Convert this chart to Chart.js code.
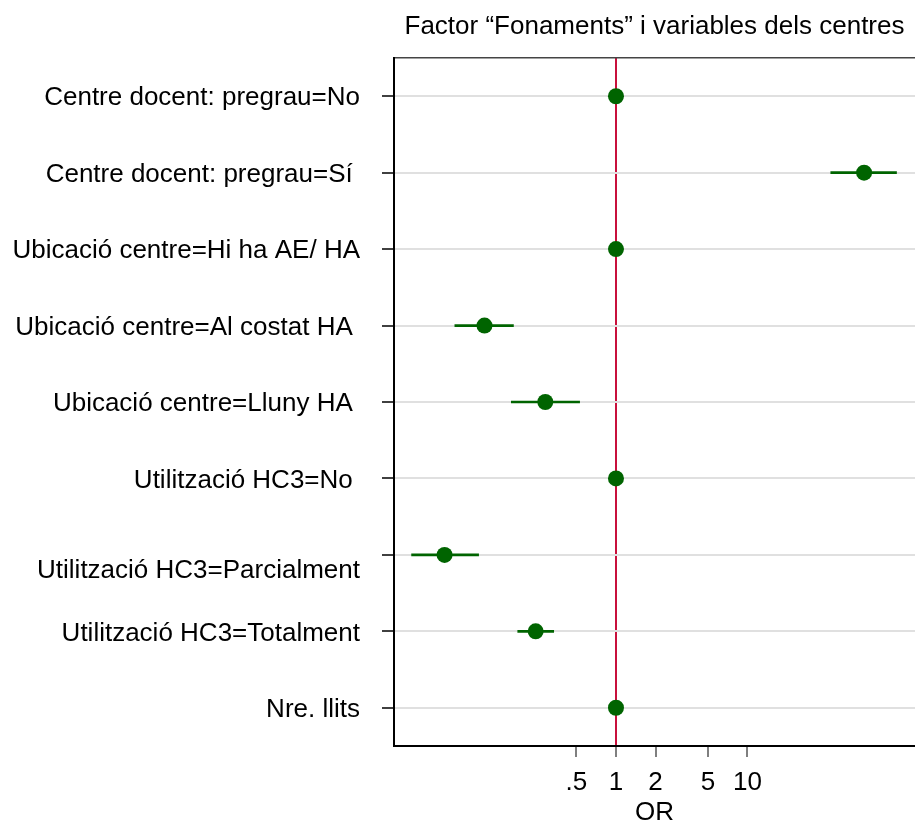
<!DOCTYPE html>
<html>
<head>
<meta charset="utf-8">
<script src="https://cdn.jsdelivr.net/npm/chart.js@4"></script>
<style>
  body { margin: 0; background: #fff; }
  #wrap { width: 915px; height: 825px; }
</style>
</head>
<body>
<div id="wrap"><canvas id="forest-chart"></canvas></div>
<script>
const chartTitle = 'Factor “Fonaments” i variables dels centres'
const labels = [
    'Centre docent: pregrau=No',
    'Centre docent: pregrau=Sí ',
    'Ubicació centre=Hi ha AE/ HA',
    'Ubicació centre=Al costat HA ',
    'Ubicació centre=Lluny HA ',
    'Utilització HC3=No ',
    ['', 'Utilització HC3=Parcialment'],
    'Utilització HC3=Totalment',
    'Nre. llits'
]
// odds ratios and 95% CI (null = reference category)
const orValues = [1, 77.1, 1, 0.100, 0.290, 1, 0.0497, 0.245, 1]
const ciLow = [null, 43.0, null, 0.0595, 0.160, null, 0.0279, 0.179, null]
const ciHigh = [null, 136, null, 0.166, 0.529, null, 0.0902, 0.336, null]
const xTicks = [0.5, 1, 2, 5, 10]
const xTickText = ['.5', '1', '2', '5', '10']

const green = '#006400'
const refRed = '#c8103c'
const fontFamily = 'Liberation Sans, Arial, sans-serif'
const font26 = { family: fontFamily, size: 26 }

const ciData = ciLow.map((lo, i) => lo === null ? null : [lo, ciHigh[i]])

const data = {
    labels: labels,
    datasets: [{
        type: 'line',
        label: 'OR',
        data: orValues,
        showLine: false,
        pointRadius: 8,
        pointHoverRadius: 8,
        pointBackgroundColor: green,
        pointBorderWidth: 0,
        borderColor: green,
        order: 0
    }, {
        type: 'bar',
        label: 'IC 95%',
        data: ciData,
        backgroundColor: green,
        barThickness: 2,
        order: 1
    }]
}

const config = {
    type: 'bar',
    data: data,
    options: {
        indexAxis: 'y',
        responsive: true,
        maintainAspectRatio: false,
        animation: false,
        layout: { padding: 0, autoPadding: false },
        plugins: {
            legend: { display: false },
            tooltip: { enabled: false }
        },
        scales: {
            x: {
                type: 'logarithmic',
                position: 'bottom',
                min: 0.0205,
                max: 188,
                afterBuildTicks: scale => {
                    scale.ticks = xTicks.map(v => ({ value: v }))
                },
                afterFit: scale => {
                    scale.height = 79
                    scale.paddingLeft = 0
                    scale.paddingRight = 0
                },
                ticks: {
                    color: '#000',
                    font: font26,
                    padding: 10,
                    maxRotation: 0,
                    autoSkip: false,
                    callback: v => xTickText[xTicks.indexOf(v)]
                },
                grid: {
                    drawOnChartArea: true,
                    color: ctx => (ctx.tick && ctx.tick.value === 1) ? refRed : 'rgba(0,0,0,0)',
                    lineWidth: 2,
                    tickColor: '#555',
                    tickLength: 11,
                    tickWidth: 1.5
                },
                border: { display: true, color: '#000', width: 2 },
                title: {
                    display: true,
                    text: 'OR',
                    color: '#000',
                    font: { family: fontFamily, size: 26, lineHeight: 0.9 },
                    padding: 0
                }
            },
            xTop: {
                type: 'linear',
                position: 'top',
                min: 0,
                max: 1,
                afterFit: scale => {
                    scale.height = 58
                    scale.paddingLeft = 0
                    scale.paddingRight = 0
                },
                ticks: { display: false },
                grid: { display: false, drawTicks: false },
                border: { display: true, color: '#444', width: 1.5 },
                title: {
                    display: true,
                    text: chartTitle,
                    color: '#000',
                    font: font26,
                    padding: { top: 11, bottom: 0 }
                }
            },
            y: {
                type: 'category',
                position: 'left',
                offset: true,
                afterFit: scale => { scale.width = 394 },
                ticks: {
                    color: '#000',
                    font: { family: fontFamily, size: 26, lineHeight: 1.1 },
                    padding: 22,
                    labelOffset: 2,
                    autoSkip: false
                },
                grid: {
                    offset: false,
                    color: '#e0e0e0',
                    lineWidth: 2,
                    tickColor: '#000',
                    tickLength: 12,
                    tickWidth: 1.5
                },
                border: { display: true, color: '#000', width: 2 }
            }
        }
    }
}

const forest_chart = new Chart(
    document.getElementById('forest-chart').getContext('2d'),
    config
)
</script>
</body>
</html>
